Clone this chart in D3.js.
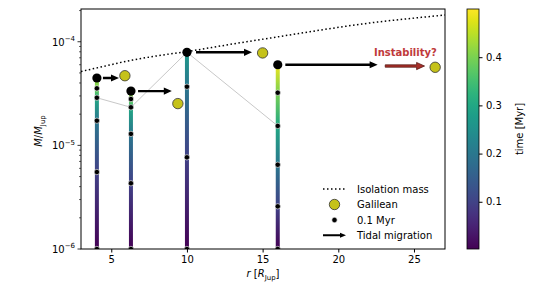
<!DOCTYPE html>
<html>
<head>
<meta charset="utf-8">
<script src="https://cdn.jsdelivr.net/npm/d3@7"></script>
<style>
body { margin: 0; background: #fff; }
svg { font-family: "DejaVu Sans", sans-serif; }
</style>
</head>
<body>
<div id="chart"></div>
<script>
// moon columns (orbital radius, masses at every 0.1 Myr, final mass)
var radii = [4.05, 6.3, 10, 16]
var dotTimes = [[0, 0.1, 0.2, 0.3, 0.4], [0, 0.1, 0.2, 0.3, 0.4], [0, 0.1, 0.2], [0, 0.1, 0.2, 0.3, 0.4]]
var dotMasses = [
	[1e-6, 5.53e-6, 1.73e-5, 2.88e-5, 3.55e-5],
	[1e-6, 4.31e-6, 1.29e-5, 2.33e-5, 2.80e-5],
	[1e-6, 7.67e-6, 3.68e-5],
	[1e-6, 2.58e-6, 6.50e-6, 1.54e-5, 3.22e-5]
]
var finalMass = [4.47e-5, 3.34e-5, 7.91e-5, 6.00e-5]
var finalTime = [0.42, 0.42, 0.27, 0.49]
var isoMass03 = [2.88e-5, 2.33e-5, 7.91e-5, 1.54e-5]

var galName = ["Io", "Europa", "Ganymede", "Callisto"]
var galR = [5.9, 9.4, 15.0, 26.4]
var galM = [4.7e-5, 2.53e-5, 7.8e-5, 5.67e-5]

var isoR = [3, 4.3, 6.4, 8, 10, 13, 16, 19, 22.6, 25, 27.05]
var isoM = [5.16e-5, 5.7e-5, 6.66e-5, 7.3e-5, 8.04e-5, 9.5e-5, 1.114e-4, 1.308e-4, 1.55e-4, 1.69e-4, 1.81e-4]

var migStart = [4.45, 6.77, 10.6, 16.5]
var migEnd = [5.51, 9.0, 14.3, 22.6]
var migMass = [4.47e-5, 3.34e-5, 7.91e-5, 6.0e-5]
var instStart = 23.1, instEnd = 25.7, instMass = 5.83e-5

var xTicks = [5, 10, 15, 20, 25]
var yTicks = [1e-6, 1e-5, 1e-4]
var yTickExp = ["−6", "−5", "−4"]
var cTicks = [0.1, 0.2, 0.3, 0.4]

var W = 551, H = 289
var L = 81, R = 445, T = 9, B = 249

var svg = d3.select("#chart").append("svg").attr("width", W).attr("height", H)
var defs = svg.append("defs")
defs.append("clipPath").attr("id", "clip").append("rect")
	.attr("x", L).attr("y", T).attr("width", R - L).attr("height", B - T)

var x = d3.scaleLinear().domain([3, 27.05]).range([L, R])
var y = d3.scaleLog().domain([1e-6, 2.07e-4]).range([B, T])
var color = d3.scaleSequential(d3.interpolateViridis).domain([0.002, 0.5])

var plot = svg.append("g").attr("clip-path", "url(#clip)")

// isochrone at 0.3 Myr
plot.append("path")
	.datum(radii.map(function(r, i) { return [r, isoMass03[i]] }))
	.attr("d", d3.line().x(function(d) { return x(d[0]) }).y(function(d) { return y(d[1]) }))
	.attr("fill", "none").attr("stroke", "#c8c8c8").attr("stroke-width", 1)

// isolation mass
plot.append("path")
	.datum(isoR.map(function(r, i) { return [r, isoM[i]] }))
	.attr("d", d3.line().curve(d3.curveMonotoneX).x(function(d) { return x(d[0]) }).y(function(d) { return y(d[1]) }))
	.attr("fill", "none").attr("stroke", "#000").attr("stroke-width", 1.5)
	.attr("stroke-dasharray", "1.5,2.5")

// growth tracks coloured by time
radii.forEach(function(r, i) {
	var y1 = y(dotMasses[i][0]), y2 = y(finalMass[i])
	var g = defs.append("linearGradient").attr("id", "grad" + i)
		.attr("gradientUnits", "userSpaceOnUse")
		.attr("x1", 0).attr("x2", 0).attr("y1", y1).attr("y2", y2)
	var ms = dotMasses[i].concat([finalMass[i]])
	var ts = dotTimes[i].concat([finalTime[i]])
	ms.forEach(function(m, k) {
		g.append("stop").attr("offset", (y(m) - y1) / (y2 - y1)).attr("stop-color", color(ts[k]))
	})
	plot.append("line")
		.attr("x1", x(r)).attr("x2", x(r)).attr("y1", y1 + 4).attr("y2", y2)
		.attr("stroke", "url(#grad" + i + ")").attr("stroke-width", 4)
})

// 0.1 Myr dots
radii.forEach(function(r, i) {
	plot.selectAll(".dot" + i)
		.data(dotMasses[i])
		.enter().append("circle")
		.attr("cx", x(r)).attr("cy", function(d) { return y(d) })
		.attr("r", 2.7).attr("fill", "#000").attr("stroke", "#fff").attr("stroke-width", 0.6)
})

// final masses
plot.selectAll(".final")
	.data(radii)
	.enter().append("circle")
	.attr("cx", function(d) { return x(d) }).attr("cy", function(d, i) { return y(finalMass[i]) })
	.attr("r", 4.6).attr("fill", "#000")

// Galilean moons
plot.selectAll(".gal")
	.data(galR)
	.enter().append("circle")
	.attr("cx", function(d) { return x(d) }).attr("cy", function(d, i) { return y(galM[i]) })
	.attr("r", 5.2).attr("fill", "#c5c21a").attr("stroke", "#333").attr("stroke-width", 0.8)

function arrowPath(x0, x1, yy, hw, hl, sw) {
	return "M" + x0 + "," + (yy - sw) + "L" + (x1 - hl) + "," + (yy - sw) + "L" + (x1 - hl) + "," + (yy - hw) +
		"L" + x1 + "," + yy + "L" + (x1 - hl) + "," + (yy + hw) + "L" + (x1 - hl) + "," + (yy + sw) +
		"L" + x0 + "," + (yy + sw) + "Z"
}

// tidal migration arrows
radii.forEach(function(r, i) {
	plot.append("path")
		.attr("d", arrowPath(x(migStart[i]), x(migEnd[i]), y(migMass[i]), 3.6, 8, 1.2))
		.attr("fill", "#000")
})
plot.append("path")
	.attr("d", arrowPath(x(instStart), x(instEnd), y(instMass), 3.6, 8, 1.2))
	.attr("fill", "#a8302a").attr("stroke", "#4a100c").attr("stroke-width", 0.7)
svg.append("text")
	.attr("x", (x(instStart) + x(instEnd)) / 2 + 0.5).attr("y", y(instMass) - 10.5)
	.attr("text-anchor", "middle").attr("font-size", 10).attr("font-weight", "bold")
	.attr("fill", "#c0393a").text("Instability?")

// axes frame
svg.append("rect").attr("x", L).attr("y", T).attr("width", R - L).attr("height", B - T)
	.attr("fill", "none").attr("stroke", "#000").attr("stroke-width", 1)

// x axis
var xa = svg.append("g").attr("transform", "translate(0," + B + ")")
	.call(d3.axisBottom(x).tickValues(xTicks).tickSize(3.5).tickPadding(3.5).tickFormat(d3.format("d")))
xa.select(".domain").remove()
xa.selectAll("text").attr("font-size", 10).attr("font-family", "DejaVu Sans").attr("fill", "#000")

// y axis (log)
var minor = []
yTicks.slice(0, 2).forEach(function(d) { for (var k = 2; k < 10; k++) minor.push(d * k) })
minor.push(2e-4)
svg.append("g").selectAll("line").data(minor).enter().append("line")
	.attr("x1", L - 2).attr("x2", L).attr("y1", function(d) { return y(d) }).attr("y2", function(d) { return y(d) })
	.attr("stroke", "#000").attr("stroke-width", 0.6)
svg.append("g").selectAll("line").data(yTicks).enter().append("line")
	.attr("x1", L - 3.5).attr("x2", L).attr("y1", function(d) { return y(d) }).attr("y2", function(d) { return y(d) })
	.attr("stroke", "#000").attr("stroke-width", 0.8)
var yl = svg.append("g").selectAll("text").data(yTicks).enter().append("text")
	.attr("x", L - 6).attr("y", function(d) { return y(d) + 3.8 })
	.attr("text-anchor", "end").attr("font-size", 10).attr("fill", "#000")
yl.append("tspan").text("10")
yl.append("tspan").attr("dy", -4.5).attr("font-size", 7).text(function(d, i) { return yTickExp[i] })

// axis labels
var ylab = svg.append("text").attr("transform", "translate(42,131) rotate(-90)")
	.attr("text-anchor", "middle").attr("font-size", 10).attr("fill", "#000")
ylab.append("tspan").attr("font-style", "italic").text("M")
ylab.append("tspan").text("/")
ylab.append("tspan").attr("font-style", "italic").text("M")
ylab.append("tspan").attr("dy", 2.5).attr("font-size", 7).text("Jup")

var xlab = svg.append("text").attr("x", 263).attr("y", 277)
	.attr("text-anchor", "middle").attr("font-size", 10).attr("fill", "#000")
xlab.append("tspan").attr("font-style", "italic").text("r")
xlab.append("tspan").text(" [")
xlab.append("tspan").attr("font-style", "italic").text("R")
xlab.append("tspan").attr("dy", 2.5).attr("font-size", 7).text("Jup")
xlab.append("tspan").attr("dy", -2.5).text("]")

// legend
var lg = svg.append("g")
var lx0 = 323, lx1 = 346, ltx = 357, ly = [189, 204.5, 220, 235.2]
var labels = ["Isolation mass", "Galilean", "0.1 Myr", "Tidal migration"]
lg.append("line").attr("x1", lx0).attr("x2", lx1).attr("y1", ly[0]).attr("y2", ly[0])
	.attr("stroke", "#000").attr("stroke-width", 1.5).attr("stroke-dasharray", "1.5,2.5")
lg.append("circle").attr("cx", (lx0 + lx1) / 2).attr("cy", ly[1]).attr("r", 5.2)
	.attr("fill", "#c5c21a").attr("stroke", "#333").attr("stroke-width", 0.8)
lg.append("circle").attr("cx", (lx0 + lx1) / 2).attr("cy", ly[2]).attr("r", 2.7)
	.attr("fill", "#000").attr("stroke", "#fff").attr("stroke-width", 0.6)
lg.append("path").attr("d", arrowPath(lx0, lx1, ly[3], 2.5, 6, 1)).attr("fill", "#000")
lg.selectAll("text").data(labels).enter().append("text")
	.attr("x", ltx).attr("y", function(d, i) { return ly[i] + 3.6 })
	.attr("font-size", 10).attr("fill", "#000").text(function(d) { return d })

// colorbar
var cbx = 467, cbw = 12
var cy = d3.scaleLinear().domain([0.002, 0.5]).range([B, T])
var cg = defs.append("linearGradient").attr("id", "cbar").attr("x1", 0).attr("x2", 0).attr("y1", 1).attr("y2", 0)
d3.range(0, 1.0001, 0.05).forEach(function(f) {
	cg.append("stop").attr("offset", f).attr("stop-color", d3.interpolateViridis(f))
})
svg.append("rect").attr("x", cbx).attr("y", T).attr("width", cbw).attr("height", B - T)
	.attr("fill", "url(#cbar)").attr("stroke", "#000").attr("stroke-width", 0.8)
var ca = svg.append("g").attr("transform", "translate(" + (cbx + cbw) + ",0)")
	.call(d3.axisRight(cy).tickValues(cTicks).tickSize(3.5).tickPadding(3.5).tickFormat(d3.format(".1f")))
ca.select(".domain").remove()
ca.selectAll("text").attr("font-size", 10).attr("font-family", "DejaVu Sans").attr("fill", "#000")
svg.append("text").attr("transform", "translate(523,129) rotate(-90)")
	.attr("text-anchor", "middle").attr("font-size", 10).attr("fill", "#000").text("time [Myr]")
</script>
</body>
</html>
